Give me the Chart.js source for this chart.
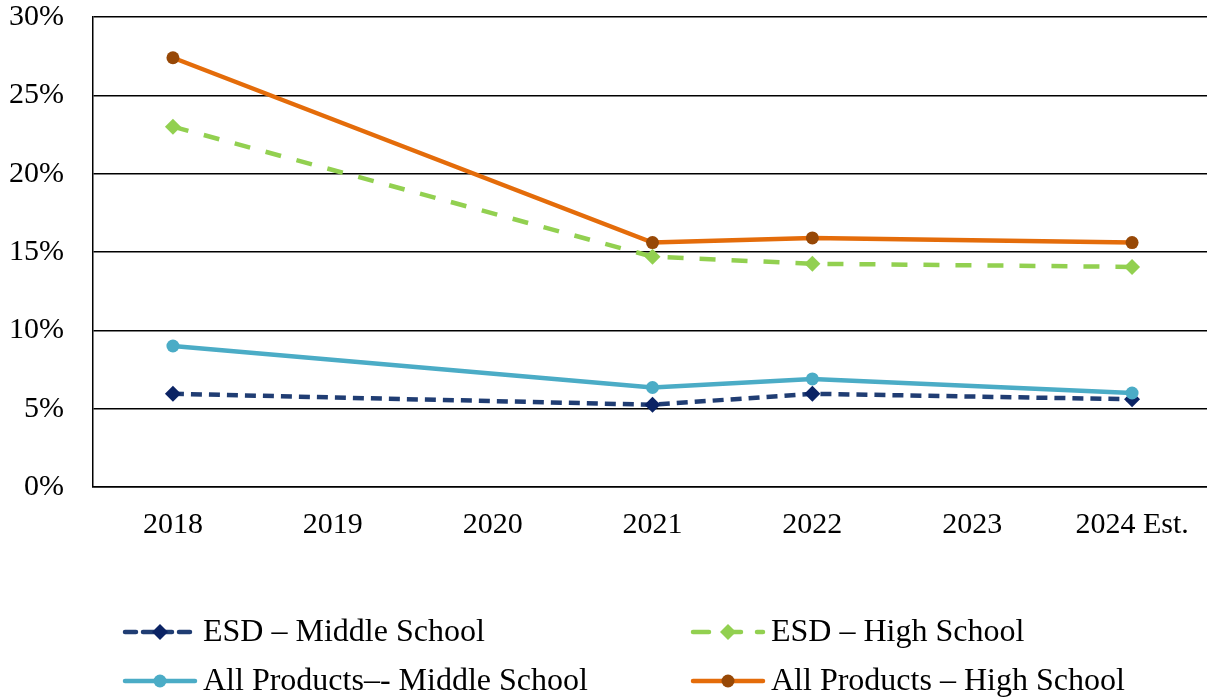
<!DOCTYPE html>
<html>
<head>
<meta charset="utf-8">
<script src="https://cdn.jsdelivr.net/npm/chart.js@4/dist/chart.umd.min.js"></script>
<style>
  html, body { margin: 0; padding: 0; background: #fff; overflow: hidden; }
  #wrap { width: 1220px; height: 699px; }
</style>
</head>
<body>
<div id="wrap"><canvas id="tobaccoChart" width="1220" height="699"></canvas></div>
<script>
const years = ["2018", "2019", "2020", "2021", "2022", "2023", "2024 Est."];
const esdMiddle = [5.95, null, null, 5.25, 5.95, null, 5.6];
const esdHigh = [23.0, null, null, 14.7, 14.25, null, 14.05];
const allMiddle = [9.0, null, null, 6.35, 6.9, null, 6.0];
const allHigh = [27.4, null, null, 15.6, 15.9, null, 15.6];
const yTicks = [0, 5, 10, 15, 20, 25, 30];

const serif = "'Liberation Serif', 'Times New Roman', serif";

const ctx = document.getElementById("tobaccoChart").getContext("2d");

// legend in two columns under the axis, drawn by hand
const legendSpots = [
  { x: 125, y: 632 },
  { x: 693, y: 632 },
  { x: 125, y: 681 },
  { x: 693, y: 681 }
];

const twoColLegend = {
  id: "twoColLegend",
  afterDraw(chart) {
    const c = chart.ctx;
    chart.data.datasets.forEach((ds, i) => {
      const p = legendSpots[ds.legendSlot];
      c.save();
      c.strokeStyle = ds.borderColor;
      c.lineWidth = ds.borderWidth;
      c.lineCap = "round";
      c.setLineDash(ds.borderDash || []);
      c.beginPath();
      c.moveTo(p.x, p.y);
      c.lineTo(p.x + 70, p.y);
      c.stroke();
      c.setLineDash([]);
      c.fillStyle = ds.pointBackgroundColor;
      const mx = p.x + 35;
      const r = ds.pointRadius;
      c.beginPath();
      if (ds.pointStyle === "rectRot") {
        c.moveTo(mx, p.y - r);
        c.lineTo(mx + r, p.y);
        c.lineTo(mx, p.y + r);
        c.lineTo(mx - r, p.y);
        c.closePath();
      } else {
        c.arc(mx, p.y, r, 0, Math.PI * 2);
      }
      c.fill();
      c.fillStyle = "#000";
      c.font = "32px " + serif;
      c.textBaseline = "middle";
      c.fillText(ds.label, p.x + 78, p.y + 1);
      c.restore();
    });
  }
};

new Chart(ctx, {
  type: "line",
  data: {
    labels: years,
    datasets: [
      {
        label: "ESD – Middle School",
        data: esdMiddle,
        legendSlot: 0,
        borderColor: "#203d73",
        borderWidth: 4.5,
        borderDash: [11, 7],
        pointStyle: "rectRot",
        pointRadius: 8,
        pointBackgroundColor: "#0b2364",
        pointBorderWidth: 0,
        order: 4
      },
      {
        label: "ESD – High School",
        data: esdHigh,
        legendSlot: 1,
        borderColor: "#92d050",
        borderWidth: 4.5,
        borderDash: [16, 16],
        pointStyle: "rectRot",
        pointRadius: 8,
        pointBackgroundColor: "#92d050",
        pointBorderWidth: 0,
        order: 3
      },
      {
        label: "All Products–- Middle School",
        data: allMiddle,
        legendSlot: 2,
        borderColor: "#4bacc6",
        borderWidth: 4.5,
        pointStyle: "circle",
        pointRadius: 6.5,
        pointBackgroundColor: "#4bacc6",
        pointBorderWidth: 0,
        order: 2
      },
      {
        label: "All Products – High School",
        data: allHigh,
        legendSlot: 3,
        borderColor: "#e46c0a",
        borderWidth: 4.5,
        pointStyle: "circle",
        pointRadius: 6.5,
        pointBackgroundColor: "#974806",
        pointBorderWidth: 0,
        order: 1
      }
    ]
  },
  options: {
    responsive: false,
    animation: false,
    spanGaps: true,
    layout: { padding: { top: 17, right: 0, left: 0, bottom: 0 } },
    plugins: {
      legend: { display: false },
      tooltip: { enabled: false }
    },
    scales: {
      x: {
        offset: true,
        grid: { display: false, drawTicks: false },
        border: { display: true, color: "#000", width: 1.5 },
        ticks: { color: "#000", font: { family: serif, size: 30 }, padding: 20 },
        afterFit(scale) {
          scale.height = 699 - 487;
          scale.paddingLeft = 0;
          scale.paddingRight = 0;
        }
      },
      y: {
        min: 0,
        max: 30,
        afterBuildTicks(scale) { scale.ticks = yTicks.map(v => ({ value: v })); },
        grid: { color: "#000", lineWidth: 1.5, drawTicks: false },
        border: { display: true, color: "#000", width: 1.5 },
        ticks: {
          color: "#000",
          font: { family: serif, size: 30 },
          padding: 29,
          callback: v => v + "%"
        },
        afterFit(scale) {
          scale.width = 93;
          // let the top label hang above the plot instead of pushing it down
          scale.paddingTop = 0;
          scale.paddingBottom = 0;
        }
      }
    }
  },
  plugins: [twoColLegend]
});
</script>
</body>
</html>
